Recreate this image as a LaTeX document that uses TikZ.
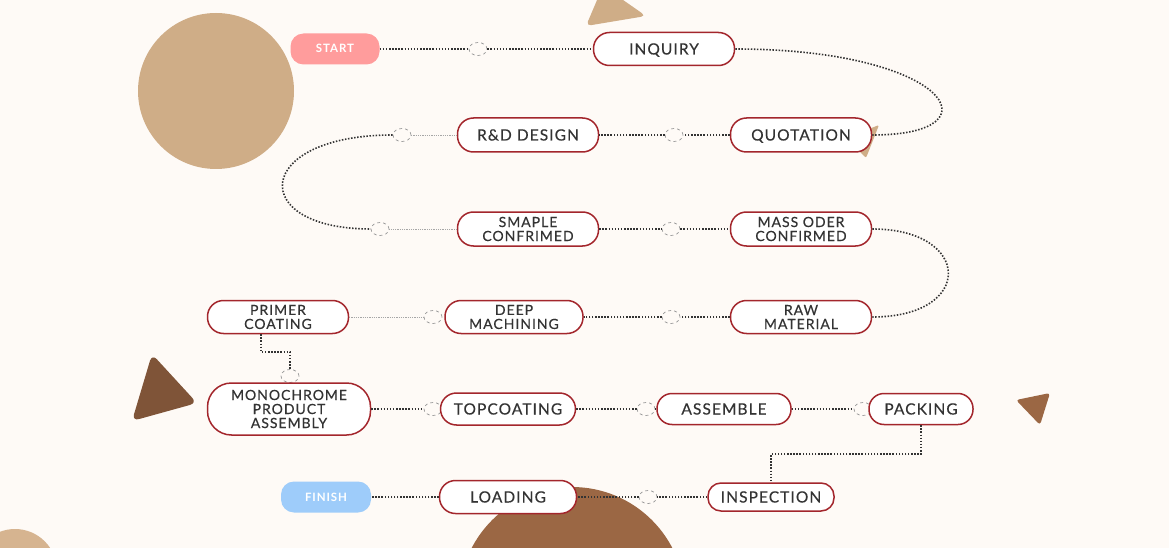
\documentclass[tikz,border=0pt]{standalone}
\usepackage{fontspec}
\setmainfont{Lato}
\newfontfamily\boxfont[LetterSpace=7,FakeBold=0.35]{Lato}
\newfontfamily\tagfont[LetterSpace=8]{Lato Bold}
\usetikzlibrary{shapes.geometric}
\definecolor{bg}{HTML}{FEFAF6}
\definecolor{tan}{HTML}{CFAD87}
\definecolor{tanlight}{HTML}{D6B490}
\definecolor{brownA}{HTML}{7F5438}
\definecolor{brownB}{HTML}{9B6744}
\definecolor{boxred}{HTML}{A3262C}
\definecolor{txt}{HTML}{333333}
\definecolor{startpink}{HTML}{FF9C9C}
\definecolor{finishblue}{HTML}{9ECCFA}
\tikzset{
  box/.style={draw=boxred, line width=1.5pt, fill=white, rounded corners=16pt,
    minimum height=33pt, minimum width=141pt, inner sep=0pt, align=center, text=txt,
    font={\boxfont\fontsize{15.5}{17}\selectfont}},
  one/.style={text height=11pt, text depth=0pt},
  box2/.style={box, minimum height=34pt, font={\boxfont\fontsize{14}{14}\selectfont}},
  tag/.style={rounded corners=13pt, minimum height=31pt, minimum width=89pt, inner sep=0pt,
    text=white, text height=8pt, text depth=0pt, font={\tagfont\fontsize{11.5}{12}\selectfont}},
  cnode/.style={ellipse, draw=gray!80, dashed, fill=bg, minimum width=18pt,
    minimum height=13pt, inner sep=0pt, line width=0.7pt},
  link/.style={line width=1.6pt, dash pattern=on 1.5pt off 1.6pt, black!80},
  faint/.style={gray!70, line width=0.8pt, dash pattern=on 1pt off 0.8pt}
}
\begin{document}
\begin{tikzpicture}[x=1pt,y=-1pt]
\fill[bg] (0,0) rectangle (1169,548);
\useasboundingbox (0,0) rectangle (1169,548);
% decorations
\fill[tan] (216,91) circle (78);
\fill[tanlight] (15,571) circle (42);
\fill[brownB] (572,600) circle (113);
\fill[tan, rounded corners=5pt] (586,26) -- (646,16) -- (603,-14) -- cycle;
\fill[tan, rounded corners=2pt] (879,125) -- (866,158) -- (846,138) -- cycle;
\fill[brownA, rounded corners=7pt] (152,354) -- (197,403) -- (132,421) -- cycle;
\fill[brownB, rounded corners=3pt] (1016,400) -- (1050,393) -- (1040,425) -- cycle;
% small circles
\node[cnode] (c1) at (478,49) {};
\node[cnode] (c2) at (674,135) {};
\node[cnode] (c3) at (402,135) {};
\node[cnode] (c4) at (380,229) {};
\node[cnode] (c5) at (671,229) {};
\node[cnode] (c6) at (671,317) {};
\node[cnode] (c7) at (433,317) {};
\node[cnode] (c8) at (290,376) {};
\node[cnode] (c9) at (433,409) {};
\node[cnode] (c10) at (646,409) {};
\node[cnode] (c11) at (863,409) {};
\node[cnode] (c12) at (648,497) {};
% nodes
\node[tag, fill=startpink] (start) at (335,49) {START};
\node[tag, fill=finishblue, minimum width=90pt] (finish) at (326,497) {FINISH};
\node[box, one] (inq) at (664,49) {INQUIRY};
\node[box, one, minimum height=34pt] (quot) at (801,135) {QUOTATION};
\node[box, one, minimum height=34pt] (rd) at (528,135) {R\&D DESIGN};
\node[box2] (smaple) at (528,229) {SMAPLE\\CONFRIMED};
\node[box2] (mass) at (801,229) {MASS ODER\\CONFIRMED};
\node[box2, minimum height=33pt] (raw) at (801,317) {RAW\\MATERIAL};
\node[box2, minimum height=33pt, minimum width=138pt] (deep) at (514,317) {DEEP\\MACHINING};
\node[box2, minimum height=33pt] (primer) at (278,317) {PRIMER\\COATING};
\node[box2, minimum height=52pt, minimum width=163pt, rounded corners=24pt] (mono) at (289,409) {MONOCHROME\\PRODUCT\\ASSEMBLY};
\node[box, one, minimum height=32pt, minimum width=135pt] (top) at (508,409) {TOPCOATING};
\node[box, one, minimum height=31pt, minimum width=134pt, rounded corners=15pt] (asm) at (724,409) {ASSEMBLE};
\node[box, one, minimum height=31pt, minimum width=104pt, rounded corners=15pt] (pack) at (921,409) {PACKING};
\node[box, one, minimum height=28pt, minimum width=126pt, rounded corners=13pt] (insp) at (771,497) {INSPECTION};
\node[box, one, minimum width=137pt] (load) at (508,497) {LOADING};
% connectors
\draw[link] (start.east) -- (c1.west);
\draw[link] (c1.east) -- (inq.west);
\draw[link] (inq.east) .. controls +(212,0) and +(130,0) .. (quot.east);
\draw[link] (quot.west) -- (c2.east);
\draw[link] (c2.west) -- (rd.east);
\draw[faint] (rd.west) -- (c3.east);
\draw[link] (c3.west) .. controls +(-140,0) and +(-124,0) .. (c4.west);
\draw[faint] (c4.east) -- (smaple.west);
\draw[link] (smaple.east) -- (c5.west);
\draw[link] (c5.east) -- (mass.west);
\draw[link] (mass.east) .. controls +(100,0) and +(103,0) .. (raw.east);
\draw[link] (raw.west) -- (c6.east);
\draw[link] (c6.west) -- (deep.east);
\draw[faint] (c7.west) -- (primer.east);
\coordinate (e1) at (261,352);
\draw[link] (primer.south -| e1) -- (e1) -- (e1 -| c8) -- (c8.north);
\draw[link] (mono.east) -- (c9.west);
\draw[link] (top.east) -- (c10.west);
\draw[link] (c10.east) -- (asm.west);
\draw[link] (asm.east) -- (c11.west);
\coordinate (e2) at (921,454);
\draw[link] (pack.south) -- (e2) -- (e2 -| insp) -- (insp.north);
\draw[link] (insp.west) -- (c12.east);
\draw[link] (c12.west) -- (load.east);
\draw[link] (load.west) -- (finish.east);
\end{tikzpicture}
\end{document}
